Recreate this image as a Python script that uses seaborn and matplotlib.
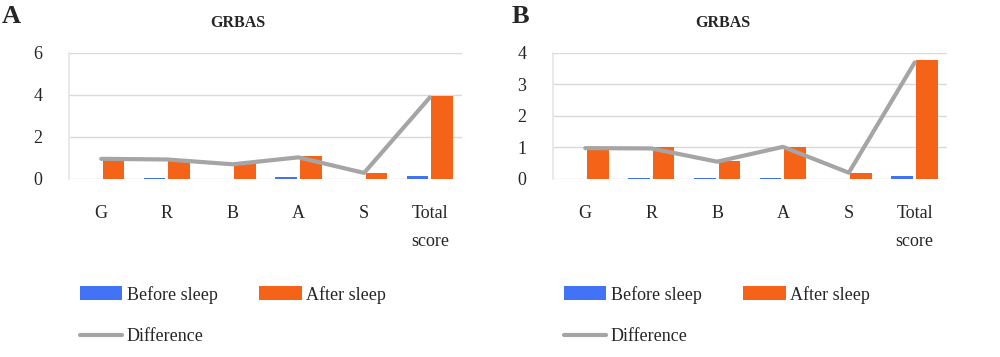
import matplotlib
matplotlib.use("Agg")
import matplotlib.pyplot as plt
import numpy as np
import pandas as pd
import seaborn as sns
from matplotlib.lines import Line2D
from matplotlib.patches import Patch

categories = ["G", "R", "B", "A", "S", "Total\nscore"]

# panel A
before_a = [0.0, 0.06, 0.0, 0.11, 0.0, 0.16]
after_a = [0.95, 0.92, 0.70, 1.10, 0.27, 3.95]
diff_a = [0.96, 0.93, 0.70, 1.03, 0.29, 3.88]

# panel B
before_b = [0.0, 0.04, 0.02, 0.04, 0.0, 0.10]
after_b = [0.95, 1.00, 0.56, 1.03, 0.18, 3.79]
diff_b = [0.98, 0.97, 0.55, 1.02, 0.20, 3.70]

blue = "#4273F4"
orange = "#F46318"
grey = "#A5A5A5"

sns.set_theme(style="white")
plt.rcParams["font.family"] = ["Liberation Serif", "DejaVu Serif"]

fig = plt.figure(figsize=(10, 3.57), dpi=100)


def draw_panel(rect, before, after, diff, yticks, letter, letter_x, title_x, legend_x):
    ax = fig.add_axes(rect)
    df = pd.DataFrame({
        "cat": categories * 2,
        "value": before + after,
        "series": ["Before sleep"] * len(categories) + ["After sleep"] * len(categories),
    })
    sns.barplot(
        data=df, x="cat", y="value", hue="series",
        palette=[blue, orange], width=0.75, gap=0.12,
        saturation=1, legend=False, ax=ax, linewidth=0,
    )
    sns.lineplot(
        x=np.arange(len(categories)), y=diff, ax=ax,
        color=grey, linewidth=3, solid_capstyle="round",
    )
    ax.set_xlim(-0.49, len(categories) - 0.51)
    ax.set_ylim(0, yticks[-1])
    ax.set_yticks(yticks)
    ax.set_xlabel("")
    ax.set_ylabel("")
    ax.yaxis.grid(True, color="#D9D9D9", linewidth=1)
    ax.set_axisbelow(True)
    for s in ["top", "right", "bottom"]:
        ax.spines[s].set_visible(False)
    ax.spines["left"].set_color("#E6E6E6")
    ax.tick_params(axis="y", length=0, pad=19, labelsize=13)
    ax.tick_params(axis="x", length=0, pad=19, labelsize=13)
    for lab in ax.get_xticklabels():
        lab.set_linespacing(1.8)
        lab.set_verticalalignment("top")

    fig.text(letter_x, 0.955, letter, fontsize=19, fontweight="bold", ha="left", va="center")
    fig.text(title_x, 0.935, "GRBAS", fontsize=11.5, fontweight="bold", ha="center", va="center")

    handles = [
        Patch(facecolor=blue, edgecolor="none"),
        Line2D([0], [0], color=grey, linewidth=3, solid_capstyle="round"),
        Patch(facecolor=orange, edgecolor="none"),
    ]
    labels = ["Before sleep", "Difference", "After sleep"]
    fig.legend(
        handles, labels, loc="upper left", bbox_to_anchor=(legend_x, 0.225),
        ncol=2, frameon=False, fontsize=13, handlelength=2.35, handleheight=0.8,
        handletextpad=0.25, columnspacing=2.3, labelspacing=1.35, borderpad=0,
    )
    return ax


draw_panel([0.069, 0.4986, 0.393, 0.353], before_a, after_a, diff_a,
           [0, 2, 4, 6], "A", 0.002, 0.238, 0.071)
draw_panel([0.553, 0.4986, 0.394, 0.353], before_b, after_b, diff_b,
           [0, 1, 2, 3, 4], "B", 0.512, 0.723, 0.555)

fig.savefig("out.png", dpi=100)
